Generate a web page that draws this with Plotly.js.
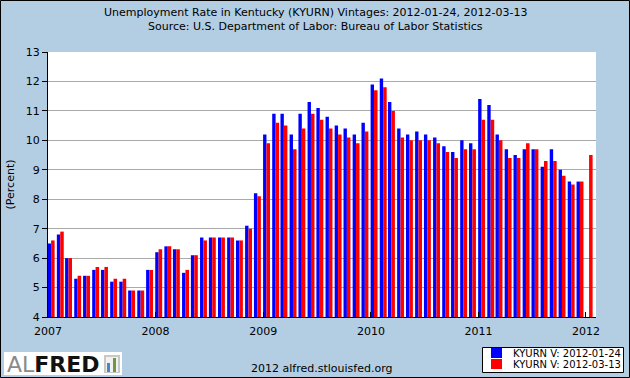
<!DOCTYPE html>
<html>
<head>
<meta charset="utf-8">
<script src="https://cdn.plot.ly/plotly-3.0.1.min.js"></script>
<style>
html,body{margin:0;padding:0;background:#B3CDE3;}
#chart{width:630px;height:378px;}
</style>
</head>
<body>
<div id="chart"></div>
<script>
// ---- data (monthly, starting 2007-01) ----
const startYear = 2007;
const titleLines = [
  "Unemployment Rate in Kentucky (KYURN) Vintages: 2012-01-24, 2012-03-13",
  "Source: U.S. Department of Labor: Bureau of Labor Statistics"
];
const seriesNames = ["KYURN V: 2012-01-24", "KYURN V: 2012-03-13"];
const vintage20120124 = [
  6.5, 6.8, 6.0, 5.3, 5.4, 5.6, 5.6, 5.2, 5.2, 4.9, 4.9, 5.6,
  6.2, 6.4, 6.3, 5.5, 6.1, 6.7, 6.7, 6.7, 6.7, 6.6, 7.1, 8.2,
  10.2, 10.9, 10.9, 10.2, 10.9, 11.3, 11.1, 10.8, 10.5, 10.4, 10.2, 10.6,
  11.9, 12.1, 11.3, 10.4, 10.2, 10.3, 10.2, 10.1, 9.8, 9.6, 10.0, 9.9,
  11.4, 11.2, 10.2, 9.7, 9.5, 9.7, 9.7, 9.1, 9.7, 9.0, 8.6, 8.6
];
const vintage20120313 = [
  6.6, 6.9, 6.0, 5.4, 5.4, 5.7, 5.7, 5.3, 5.3, 4.9, 4.9, 5.6,
  6.3, 6.4, 6.3, 5.6, 6.1, 6.6, 6.7, 6.7, 6.7, 6.6, 7.0, 8.1,
  9.9, 10.6, 10.5, 9.7, 10.4, 10.9, 10.7, 10.4, 10.2, 10.1, 9.9, 10.3,
  11.7, 11.8, 11.0, 10.1, 10.0, 10.0, 10.0, 9.9, 9.6, 9.4, 9.7, 9.7,
  10.7, 10.7, 10.0, 9.4, 9.4, 9.9, 9.7, 9.3, 9.3, 8.8, 8.5, 8.6,
  9.5
];
const yearTicks = ["2007", "2008", "2009", "2010", "2011", "2012"];

function monthDates(n) {
  const out = [];
  for (let i = 0; i < n; i++) {
    const y = startYear + Math.floor(i / 12);
    const m = (i % 12) + 1;
    out.push(y + "-" + (m < 10 ? "0" + m : m) + "-01");
  }
  return out;
}

// ---- geometry helpers ----
const W = 630, H = 378;
const M = {l: 48, r: 34, t: 52, b: 61};
const PW = W - M.l - M.r, PH = H - M.t - M.b;
const px = x => (x - M.l) / PW;
const py = y => (H - M.b - y) / PH;
const DAY = 86400000;
const FONT = "DejaVu Sans";

const traces = [
  {
    type: "bar", name: seriesNames[0],
    x: monthDates(vintage20120124.length), y: vintage20120124,
    offset: -1 * DAY, width: 11.5 * DAY,
    marker: {color: "#0000FF", line: {width: 0}},
    showlegend: false, hoverinfo: "x+y"
  },
  {
    type: "bar", name: seriesNames[1],
    x: monthDates(vintage20120313.length), y: vintage20120313,
    offset: 10.5 * DAY, width: 12 * DAY,
    marker: {color: "#FF0000", line: {width: 0}},
    showlegend: false, hoverinfo: "x+y"
  }
];

const shapes = [
  // outer border
  {type: "rect", xref: "paper", yref: "paper", x0: px(0.5), x1: px(629.5), y0: py(377.5), y1: py(0.5),
   line: {color: "#000", width: 1}, fillcolor: "rgba(0,0,0,0)"},
  // legend box
  {type: "rect", xref: "paper", yref: "paper", x0: px(482.5), x1: px(623.5), y0: py(372.5), y1: py(347.5),
   line: {color: "#000", width: 1}, fillcolor: "#FFFFFF"},
  {type: "rect", xref: "paper", yref: "paper", x0: px(491), x1: px(502), y0: py(358), y1: py(348),
   line: {width: 0}, fillcolor: "#0000FF"},
  {type: "rect", xref: "paper", yref: "paper", x0: px(491), x1: px(502), y0: py(369), y1: py(359),
   line: {width: 0}, fillcolor: "#FF0000"},
  // logo box
  {type: "rect", xref: "paper", yref: "paper", x0: px(4), x1: px(122), y0: py(375), y1: py(352),
   line: {width: 0}, fillcolor: "#FFFFFF"},
  {type: "rect", xref: "paper", yref: "paper", x0: px(104), x1: px(120), y0: py(373), y1: py(355),
   line: {width: 0}, fillcolor: "#C8C8C8"},
  {type: "rect", xref: "paper", yref: "paper", x0: px(106), x1: px(118), y0: py(372), y1: py(357),
   line: {width: 0}, fillcolor: "#F2F2F2"},
  {type: "rect", xref: "paper", yref: "paper", x0: px(107), x1: px(110), y0: py(372), y1: py(363),
   line: {width: 0}, fillcolor: "#4A86C5"},
  {type: "rect", xref: "paper", yref: "paper", x0: px(113), x1: px(116), y0: py(372), y1: py(358),
   line: {width: 0}, fillcolor: "#6E9A3C"}
];

const annotations = [
  {xref: "paper", yref: "paper", x: px(315), y: py(12), xanchor: "center", yanchor: "middle",
   text: titleLines[0], showarrow: false, font: {family: FONT, size: 11, color: "#000"}},
  {xref: "paper", yref: "paper", x: px(315), y: py(26), xanchor: "center", yanchor: "middle",
   text: titleLines[1], showarrow: false, font: {family: FONT, size: 11, color: "#000"}},
  {xref: "paper", yref: "paper", x: px(511), y: py(353), xanchor: "left", yanchor: "middle",
   text: seriesNames[0], showarrow: false, font: {family: FONT, size: 10, color: "#000"}},
  {xref: "paper", yref: "paper", x: px(511), y: py(364), xanchor: "left", yanchor: "middle",
   text: seriesNames[1], showarrow: false, font: {family: FONT, size: 10, color: "#000"}},
  {xref: "paper", yref: "paper", x: px(321), y: py(368), xanchor: "center", yanchor: "middle",
   text: "2012 alfred.stlouisfed.org", showarrow: false, font: {family: FONT, size: 11, color: "#000"}},
  {xref: "paper", yref: "paper", x: px(5), y: py(364), xanchor: "left", yanchor: "middle",
   text: "<span style=\"color:#8A8A8A\">AL</span><b>FRED</b>", showarrow: false,
   font: {family: FONT, size: 22, color: "#111"}}
];

const layout = {
  width: W, height: H,
  paper_bgcolor: "#B3CDE3", plot_bgcolor: "#FFFFFF",
  margin: M,
  barmode: "overlay",
  showlegend: false,
  font: {family: FONT, size: 11, color: "#000"},
  xaxis: {
    type: "date",
    range: ["2007-01-01", "2012-02-04"],
    tickvals: yearTicks.map(y => y + "-01-01"),
    ticktext: yearTicks,
    ticks: "inside", ticklen: 5, tickcolor: "#000", tickwidth: 1,
    ticklabelstandoff: 4,
    showline: true, linecolor: "#000", linewidth: 1,
    showgrid: false, zeroline: false,
    tickfont: {family: FONT, size: 11, color: "#000"},
    fixedrange: true
  },
  yaxis: {
    range: [4, 13], dtick: 1, tick0: 4,
    ticks: "outside", ticklen: 5, tickcolor: "#000", tickwidth: 1,
    showline: true, linecolor: "#000", linewidth: 1,
    showgrid: true, gridcolor: "#AAAAAA", gridwidth: 1,
    zeroline: false,
    tickfont: {family: FONT, size: 11, color: "#000"},
    title: {text: "(Percent)", font: {family: FONT, size: 11, color: "#000"}, standoff: 8},
    fixedrange: true
  },
  shapes: shapes,
  annotations: annotations
};

Plotly.newPlot("chart", traces, layout, {displayModeBar: false, staticPlot: true});
</script>
</body>
</html>
